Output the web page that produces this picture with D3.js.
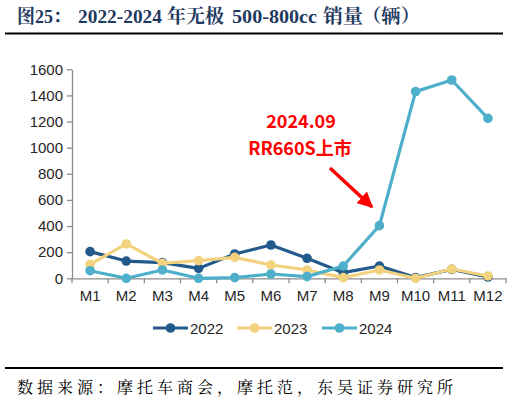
<!DOCTYPE html>
<html>
<head>
<meta charset="utf-8">
<script src="https://cdn.jsdelivr.net/npm/d3@7"></script>
<style>
  body { margin: 0; background: #fff; }
  svg { display: block; }
</style>
</head>
<body>
<script>
var months = ['M1', 'M2', 'M3', 'M4', 'M5', 'M6', 'M7', 'M8', 'M9', 'M10', 'M11', 'M12'];
var years = ['2022', '2023', '2024'];
var sales2022 = [204, 132, 120, 76, 186, 255, 153, 43, 94, 5, 68, 10];
var sales2023 = [107, 263, 115, 135, 160, 102, 64, 5, 64, 0, 71, 18];
var sales2024 = [58, 0, 64, 0, 5, 33, 13, 94, 403, 1429, 1518, 1225];
var yTicks = [0, 200, 400, 600, 800, 1000, 1200, 1400, 1600];
var colors = ['#235a8c', '#f3d27e', '#4dafc9'];
var titleParts = ['图25：', '2022-2024', '年无极', '500-800cc', '销量', '（辆）'];

var width = 509, height = 402;
var svg = d3.select('body').append('svg')
  .attr('width', width)
  .attr('height', height);

// title + rules (pieces placed like the word-processor layout)
var titleX = [17, 78, 167, 232, 323, 362];
var titleW = [54, 84, 57, 85, 40, 58];
svg.append('text')
  .attr('y', 23)
  .attr('font-family', '"Liberation Serif", "Noto Serif CJK SC", serif')
  .attr('font-weight', 'bold')
  .attr('font-size', 19)
  .attr('fill', '#1f3a5f')
  .selectAll('tspan')
  .data(titleParts)
  .enter().append('tspan')
  .attr('x', function (d, i) { return titleX[i]; })
  .attr('textLength', function (d, i) { return titleW[i]; })
  .attr('lengthAdjust', 'spacingAndGlyphs')
  .text(function (d) { return d; });
svg.append('line').attr('x1', 5).attr('x2', 503).attr('y1', 33.5).attr('y2', 33.5)
  .attr('stroke', '#000').attr('stroke-width', 2);
svg.append('line').attr('x1', 5).attr('x2', 503).attr('y1', 368).attr('y2', 368)
  .attr('stroke', '#000').attr('stroke-width', 2);
svg.append('text')
  .attr('x', 17).attr('y', 393)
  .attr('font-family', '"Noto Serif CJK SC", "Noto Sans CJK SC", serif')
  .attr('font-size', 16)
  .attr('textLength', 436)
  .attr('lengthAdjust', 'spacing')
  .attr('fill', '#000')
  .text('数据来源：摩托车商会，摩托范，东吴证券研究所');

var x = d3.scaleBand().domain(months).range([72, 506]);
var y = d3.scaleLinear().domain([0, 1600]).range([278.3, 69.3]);

var axisColor = '#8c8c8c';
var gy = svg.append('g')
  .attr('transform', 'translate(72,0)')
  .call(d3.axisLeft(y).tickValues(yTicks).tickFormat(d3.format('d'))
    .tickSize(5).tickPadding(4).tickSizeOuter(0));
var gx = svg.append('g')
  .attr('transform', 'translate(0,' + y(0) + ')')
  .call(d3.axisBottom(x).tickSize(0).tickPadding(12).tickSizeOuter(0));

[gy, gx].forEach(function (g) {
  g.select('.domain').attr('stroke', axisColor).attr('stroke-width', 1.3);
  g.selectAll('.tick line').attr('stroke', axisColor).attr('stroke-width', 1.3);
  g.selectAll('text')
    .attr('font-family', '"Liberation Sans", Arial, sans-serif')
    .attr('font-size', 15)
    .attr('fill', '#262626');
});

// category dividers on x axis, excel style
gx.selectAll('.divider')
  .data(d3.range(months.length + 1))
  .enter().append('line')
  .attr('x1', function (i) { return 72 + i * x.step(); })
  .attr('x2', function (i) { return 72 + i * x.step(); })
  .attr('y1', 0).attr('y2', 5)
  .attr('stroke', axisColor).attr('stroke-width', 1.3);

var series = [sales2022, sales2023, sales2024];
var line = d3.line()
  .x(function (d, i) { return x(months[i]) + x.bandwidth() / 2; })
  .y(function (d) { return y(d); });

series.forEach(function (vals, k) {
  var g = svg.append('g');
  g.append('path')
    .attr('d', line(vals))
    .attr('fill', 'none')
    .attr('stroke', colors[k])
    .attr('stroke-width', 3.2)
    .attr('stroke-linejoin', 'round');
  g.selectAll('circle')
    .data(vals)
    .enter().append('circle')
    .attr('cx', function (d, i) { return x(months[i]) + x.bandwidth() / 2; })
    .attr('cy', function (d) { return y(d); })
    .attr('r', 4.8)
    .attr('fill', colors[k]);
});

// annotation
var note = svg.append('g')
  .attr('font-family', '"Noto Sans CJK SC", "Noto Sans", sans-serif')
  .attr('font-weight', 'bold')
  .attr('font-size', 18)
  .attr('fill', '#ff0000')
  .attr('text-anchor', 'middle');
note.append('text').attr('x', 301).attr('y', 128).text('2024.09');
note.append('text').attr('x', 300).attr('y', 155).text('RR660S上市');

svg.append('defs').append('marker')
  .attr('id', 'head')
  .attr('viewBox', '0 0 10 10')
  .attr('refX', 9).attr('refY', 5)
  .attr('markerWidth', 4.5).attr('markerHeight', 4.5)
  .attr('markerUnits', 'strokeWidth')
  .attr('orient', 'auto')
  .append('path').attr('d', 'M0,0 L10,5 L0,10 Z').attr('fill', '#ff0000');
svg.append('line')
  .attr('x1', 330).attr('y1', 168)
  .attr('x2', 372).attr('y2', 207)
  .attr('stroke', '#ff0000').attr('stroke-width', 3.5)
  .attr('marker-end', 'url(#head)');

// legend
var legendX = [153, 237, 322];
var legend = svg.append('g');
years.forEach(function (yr, k) {
  var lx = legendX[k];
  legend.append('line')
    .attr('x1', lx).attr('x2', lx + 35)
    .attr('y1', 328).attr('y2', 328)
    .attr('stroke', colors[k]).attr('stroke-width', 3.2);
  legend.append('circle')
    .attr('cx', lx + 17.5).attr('cy', 328).attr('r', 4.8)
    .attr('fill', colors[k]);
  legend.append('text')
    .attr('x', lx + 37).attr('y', 333.5)
    .attr('font-family', '"Liberation Sans", Arial, sans-serif')
    .attr('font-size', 15)
    .attr('fill', '#262626')
    .text(yr);
});
</script>
</body>
</html>
